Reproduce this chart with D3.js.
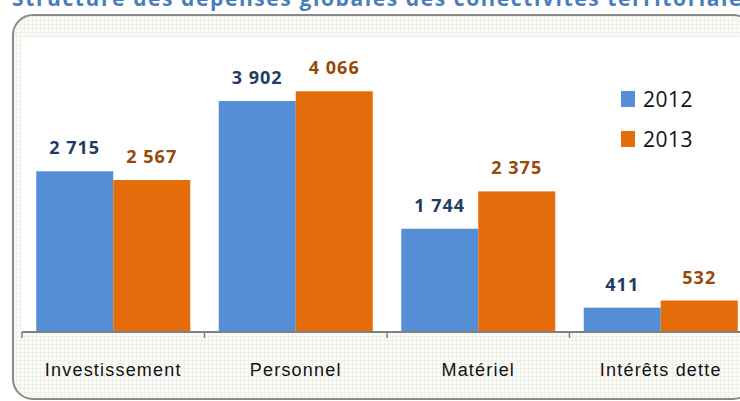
<!DOCTYPE html>
<html>
<head>
<meta charset="utf-8">
<title>Structure des dépenses</title>
<script src="https://cdn.jsdelivr.net/npm/d3@7"></script>
<style>
  body { margin: 0; background: #fff; }
  svg { display: block; font-family: "Open Sans", sans-serif; }
</style>
</head>
<body>
<div id="chart"></div>
<script>
// data
var categories = ["Investissement", "Personnel", "Matériel", "Intérêts dette"];
var years = ["2012", "2013"];
var values2012 = [2715, 3902, 1744, 411];
var values2013 = [2567, 4066, 2375, 532];

var W = 740, H = 401;
var colors = { "2012": "#558ed5", "2013": "#e46c0a" };
var labelColors = { "2012": "#1f3c64", "2013": "#984807" };

var fr = d3.formatLocale({ decimal: ",", thousands: " ", grouping: [3], currency: ["", " €"] });
var fmt = fr.format(",d");

var rows = categories.map(function(c, i) {
  return { cat: c, vals: [
    { year: "2012", v: values2012[i] },
    { year: "2013", v: values2013[i] }
  ] };
});

var svg = d3.select("#chart").append("svg")
  .attr("width", W)
  .attr("height", H);

// faint grid paper behind the chart frame
var defs = svg.append("defs");
var pat = defs.append("pattern")
  .attr("id", "grid")
  .attr("width", 4).attr("height", 4)
  .attr("patternUnits", "userSpaceOnUse");
pat.append("rect").attr("width", 4).attr("height", 4).attr("fill", "#fafaf6");
pat.append("path").attr("d", "M4 0 L0 0 L0 4").attr("fill", "none")
  .attr("stroke", "#ebebe4").attr("stroke-width", 1);

// title (cut off at the top, as in the original)
svg.append("text")
  .attr("x", 12).attr("y", 6)
  .attr("fill", "#4a7ebb")
  .attr("font-size", "21px")
  .attr("font-weight", "bold")
  .attr("letter-spacing", "1.6px")
  .text("Structure des dépenses globales des collectivités territoriales");

// frame
svg.append("rect")
  .attr("x", 13).attr("y", 15)
  .attr("width", 740).attr("height", 384)
  .attr("rx", 20).attr("ry", 20)
  .attr("fill", "url(#grid)")
  .attr("stroke", "#8a8a8a")
  .attr("stroke-width", 2);

var plot = { left: 22, right: 752, top: 37, bottom: 332 };

// white plot area
svg.append("rect")
  .attr("x", plot.left).attr("y", plot.top)
  .attr("width", W - plot.left).attr("height", plot.bottom - plot.top)
  .attr("fill", "#fff");

var x0 = d3.scaleBand()
  .domain(categories)
  .range([plot.left, plot.right])
  .padding(0);

var x1 = d3.scaleBand()
  .domain(years)
  .range([0, x0.bandwidth()])
  .paddingInner(0)
  .paddingOuter(0.185);

var y = d3.scaleLinear()
  .domain([0, 5000])
  .range([plot.bottom, 36]);

var groups = svg.selectAll("g.cat")
  .data(rows)
  .enter().append("g")
  .attr("class", "cat")
  .attr("transform", function(d) { return "translate(" + x0(d.cat) + ",0)"; });

groups.selectAll("rect")
  .data(function(d) { return d.vals; })
  .enter().append("rect")
  .attr("x", function(d) { return x1(d.year); })
  .attr("y", function(d) { return y(d.v); })
  .attr("width", x1.bandwidth())
  .attr("height", function(d) { return y(0) - y(d.v); })
  .attr("fill", function(d) { return colors[d.year]; });

groups.selectAll("text.val")
  .data(function(d) { return d.vals; })
  .enter().append("text")
  .attr("class", "val")
  .attr("x", function(d) { return x1(d.year) + x1.bandwidth() / 2; })
  .attr("y", function(d) { return y(d.v) - 17; })
  .attr("text-anchor", "middle")
  .attr("font-size", "18px")
  .attr("font-weight", "bold")
  .attr("letter-spacing", "1px")
  .attr("fill", function(d) { return labelColors[d.year]; })
  .text(function(d) { return fmt(d.v); });

// x axis
var xAxis = svg.append("g")
  .attr("transform", "translate(0," + plot.bottom + ")")
  .call(d3.axisBottom(x0).tickSize(0).tickPadding(0).tickFormat(""));
xAxis.select(".domain").remove();
xAxis.append("line")
  .attr("x1", plot.left).attr("x2", W)
  .attr("stroke", "#808080").attr("stroke-width", 2);
xAxis.selectAll(".sep")
  .data(categories)
  .enter().append("line")
  .attr("class", "sep")
  .attr("x1", function(d) { return x0(d); })
  .attr("x2", function(d) { return x0(d); })
  .attr("y1", 0).attr("y2", 6)
  .attr("stroke", "#808080").attr("stroke-width", 1.5);
xAxis.selectAll(".tick text").remove();
xAxis.selectAll(".catlabel")
  .data(categories)
  .enter().append("text")
  .attr("class", "catlabel")
  .attr("x", function(d) { return x0(d) + x0.bandwidth() / 2; })
  .attr("y", 44)
  .attr("text-anchor", "middle")
  .attr("font-size", "18px")
  .attr("letter-spacing", "1.2px")
  .attr("fill", "#111")
  .text(function(d) { return d; });

// legend
var legend = svg.append("g").attr("transform", "translate(621,91)");
var li = legend.selectAll("g")
  .data(years)
  .enter().append("g")
  .attr("transform", function(d, i) { return "translate(0," + (i * 40) + ")"; });
li.append("rect")
  .attr("width", 14).attr("height", 16)
  .attr("fill", function(d) { return colors[d]; });
li.append("text")
  .attr("x", 22).attr("y", 16)
  .attr("font-size", "21px")
  .attr("letter-spacing", "0.5px")
  .attr("fill", "#111")
  .text(function(d) { return d; });
</script>
</body>
</html>
